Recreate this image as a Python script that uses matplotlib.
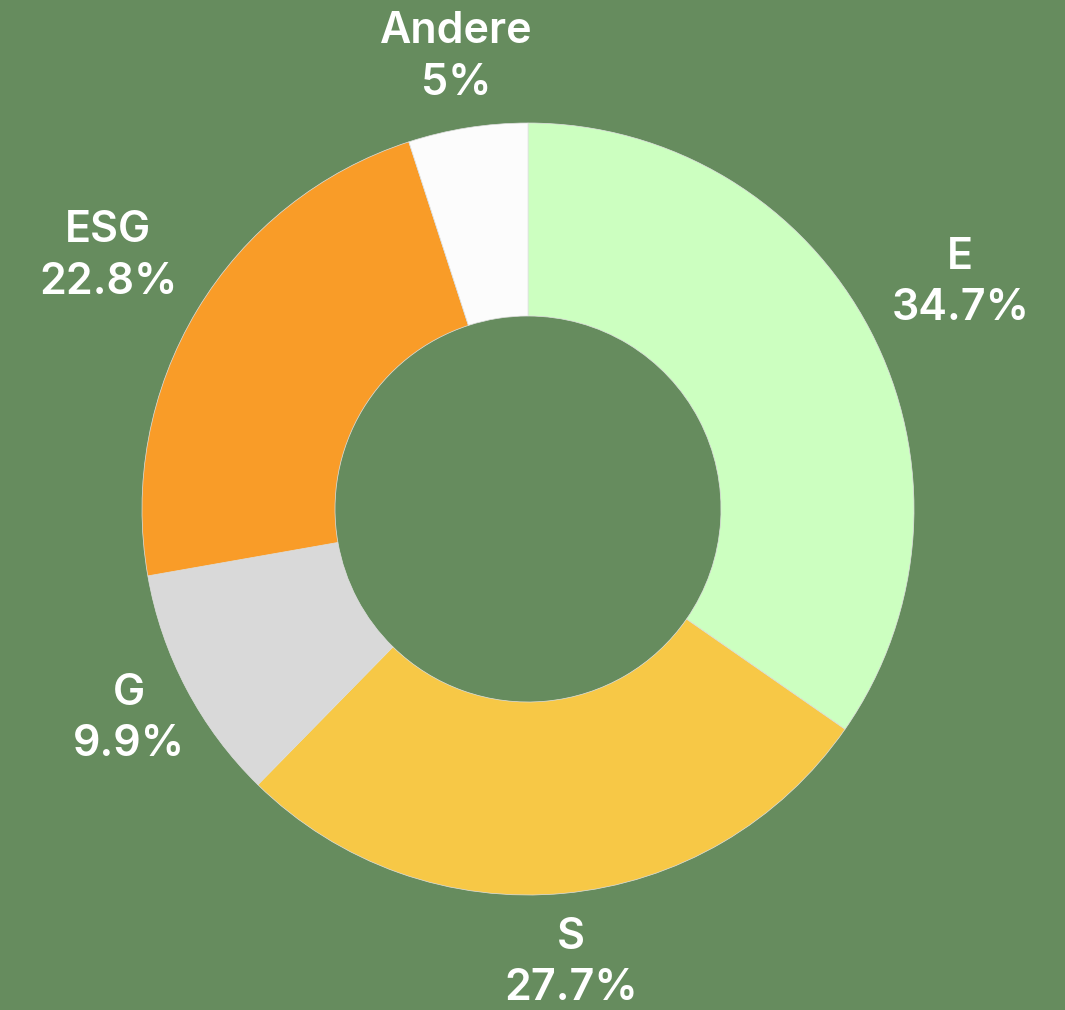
import numpy as np
import matplotlib.pyplot as plt

labels = ["E", "S", "G", "ESG", "Andere"]
values = [34.7, 27.7, 9.9, 22.8, 5.0]
pct_labels = ["34.7%", "27.7%", "9.9%", "22.8%", "5%"]
colors = ["#CCFFC0", "#F7C846", "#D9D9D9", "#F99C28", "#FCFCFC"]
label_radius = [1.264, 1.181, 1.169, 1.269, 1.184]

bg = "#668C5E"
W, H = 1065, 1010
fig = plt.figure(figsize=(W / 100, H / 100), dpi=100, facecolor=bg)
ax = fig.add_axes([0, 0, 1, 1])
ax.set_facecolor(bg)

cx, cy, R = 528, H - 509, 386
wedges, _ = ax.pie(values, colors=colors, startangle=90, counterclock=False,
                   radius=R, center=(cx, cy), frame=True,
                   wedgeprops=dict(width=R * 0.5, linewidth=0.5, edgecolor="#E0E0E0"))
ax.set_xlim(0, W)
ax.set_ylim(0, H)
ax.axis("off")

for w, lab, pct, lr in zip(wedges, labels, pct_labels, label_radius):
    ang = np.deg2rad((w.theta1 + w.theta2) / 2)
    x = cx + R * lr * np.cos(ang)
    y = cy + R * lr * np.sin(ang)
    ax.text(x, y, f"{lab}\n{pct}", ha="center", va="center", color="white",
            fontsize=31, fontweight="semibold", family=["Inter", "DejaVu Sans"],
            linespacing=1.32)

fig.savefig("out.png", dpi=100, facecolor=bg)
